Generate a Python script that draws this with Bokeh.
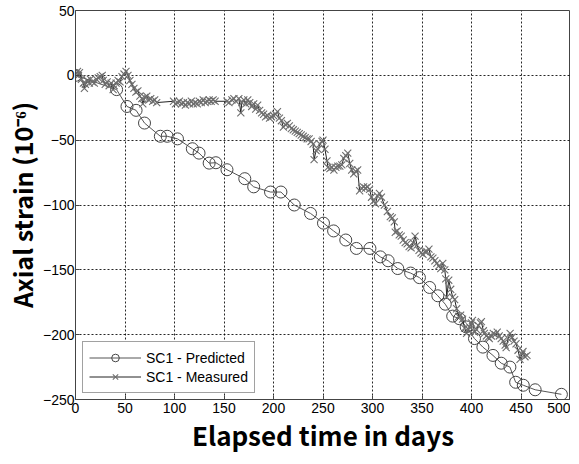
from bokeh.plotting import figure
from bokeh.models import Range1d, Legend, LegendItem, FixedTicker
from bokeh.embed import file_html
from bokeh.resources import INLINE

# ---- data ----
pred_days = [0, 41.5, 52, 61.2, 69.7, 85.7, 92.6, 103, 118, 124.8, 135, 141.8, 153, 171,
             180, 197, 207.5, 221, 237.4, 250.5, 260.7, 273, 283.7, 297.4, 307.9, 315.8,
             325.5, 338.5, 347.4, 357.7, 366, 373.5, 381, 387.8, 394.6, 403, 411.5, 421.7,
             430, 438.8, 444.6, 452.3, 464.3, 490.8]
pred_vals = [0, -11, -24, -27, -36.8, -47, -47, -49, -56.6, -60, -67.7, -67.4, -72.8, -79.7,
             -86, -90, -90, -100, -106.5, -114, -120, -127, -133.5, -133.5, -140, -143,
             -149, -152.5, -156, -163.6, -170, -176.5, -185.7, -187.7, -194, -203, -209.6, -216,
             -222, -225, -236.7, -239, -242.5, -246]

meas_days = [0, 2, 3, 4, 6, 8, 9, 10, 12, 14, 15, 17, 19, 21, 23, 25, 27, 28, 30, 32, 34, 36,
             38, 39, 41, 43, 45, 47, 49, 51, 53, 55, 57, 59, 61, 63, 65, 67, 68, 70, 72, 74,
             76, 78, 80, 82,
             99, 101, 103, 105, 107, 109, 111, 113, 115, 117, 119, 121, 123, 125, 127, 129,
             131, 133, 135, 137, 139, 141,
             153, 155, 158, 160, 162, 165, 167, 168, 170, 172, 174, 176, 178, 180, 182, 184,
             186, 188, 190, 192, 194, 196, 198, 200, 202, 204, 206, 208, 210, 212, 214, 216,
             218, 220, 222, 224, 226, 228, 230, 232, 234, 236, 238, 240, 241, 243, 245, 247,
             249, 250, 252, 254, 255, 257, 259, 261, 263, 265, 267, 269, 271, 273, 275, 277,
             279, 281, 283, 285, 287, 289, 291, 293, 295, 297, 299, 301, 303, 305, 307, 309,
             312, 315, 318, 320, 322, 323, 325, 327, 329, 331, 333, 335, 337, 339, 341, 343,
             345, 347, 349, 351, 353, 355, 357, 359, 361, 363, 365, 367, 369, 371, 373, 374,
             375, 377, 379, 381, 383, 385, 387, 389, 391, 393, 395, 397, 398, 400, 401, 403,
             405, 407, 409, 410, 412, 413, 415, 417, 418, 420, 422, 424, 426, 428, 430, 432,
             434, 435, 437, 439, 441, 443, 445, 447, 449, 451, 452, 454, 456]
meas_vals = [1, 3, 0, 2, -3, -6, -10, -7, -4, -6, -3, -5, -6, -3, -2, -1, 0, -4, -7, -5, -8, -6,
             -11, -8, -6, -4, -5, -1, 1, 3, 0, -4, -7, -10, -13, -12, -16, -18, -22, -17, -16, -19,
             -18, -20, -19, -21,
             -20, -22, -21, -20, -22, -21, -23, -21, -22, -20, -22, -21, -22, -20, -21, -19,
             -21, -20, -19, -20, -19, -20,
             -20, -21, -19, -18, -20, -18, -29, -21, -19, -22, -19, -21, -24, -22, -26, -23,
             -27, -29, -30, -32, -31, -33, -32, -31, -30, -28, -33, -35, -40, -38, -37, -39,
             -41, -42, -43, -44, -45, -46, -47, -48, -49, -49, -51, -53, -65, -58, -57, -53,
             -51, -50, -57, -66, -71, -72, -71, -73, -71, -70, -70, -69, -64, -62, -60, -68,
             -73, -76, -74, -73, -89, -87, -86, -87, -86, -88, -94, -97, -99, -93, -91, -94,
             -100, -105, -109, -110, -113, -121, -120, -123, -124, -127, -129, -130, -132, -133, -129, -124,
             -131, -135, -137, -138, -136, -136, -134, -140, -141, -143, -145, -147, -149, -145, -150, -157,
             -171, -158, -165, -171, -173, -180, -186, -185, -188, -195, -199, -196, -194, -191, -189, -198,
             -196, -193, -191, -190, -197, -199, -201, -202, -203, -201, -199, -200, -198, -201, -203, -205,
             -208, -210, -203, -199, -202, -205, -207, -212, -219, -215, -213, -217, -216]

x_ticks = [0, 50, 100, 150, 200, 250, 300, 350, 400, 450, 500]
y_ticks = [-250, -200, -150, -100, -50, 0, 50]

p = figure(width=570, height=456, output_backend="svg", toolbar_location=None,
           x_range=Range1d(0, 500), y_range=Range1d(-250, 50),
           min_border_left=66, min_border_right=0, min_border_top=10, min_border_bottom=57,
           background_fill_color="white", border_fill_color="white")

p.outline_line_color = "#444444"
p.outline_line_width = 1

for ax in (p.xaxis, p.yaxis):
    ax.axis_line_color = "#444444"
    ax.major_tick_line_color = "#444444"
    ax.major_tick_in = 4
    ax.major_tick_out = 0
    ax.minor_tick_line_color = None
    ax.major_label_text_font = "Liberation Sans"
    ax.major_label_text_font_size = "14px"
    ax.major_label_text_color = "black"
    ax.axis_label_text_font = "Noto Sans CJK KR"
    ax.axis_label_text_font_style = "bold"
    ax.axis_label_text_color = "black"

p.xaxis.axis_label_text_font_size = "26px"
p.yaxis.axis_label_text_font_size = "25px"
p.xaxis.ticker = FixedTicker(ticks=x_ticks)
p.yaxis.ticker = FixedTicker(ticks=y_ticks)
p.xaxis.axis_label = "Elapsed time in days"
p.yaxis.axis_label = "Axial strain (10\u207b\u2076)"
p.xaxis.major_label_standoff = 3
p.yaxis.major_label_standoff = 1
p.xaxis.axis_label_standoff = 0
p.yaxis.axis_label_standoff = 0

for g in (p.xgrid, p.ygrid):
    g.grid_line_color = "black"
    g.grid_line_alpha = 0.85
    g.grid_line_dash = "2 2"
    g.grid_line_width = 1

pl = p.line(pred_days, pred_vals, line_color="#555555", line_width=1)
ps = p.scatter(pred_days, pred_vals, marker="circle", size=12, fill_color=None,
               line_color="#444444", line_width=1)

ml = p.line(meas_days, meas_vals, line_color="#222222", line_width=1)
ms = p.scatter(meas_days, meas_vals, marker="x", size=10, line_color="#6e6e6e", line_width=1.1)

legend = Legend(items=[LegendItem(label="SC1 - Predicted", renderers=[pl, ps]),
                       LegendItem(label="SC1 - Measured", renderers=[ml, ms])],
                location=(7, 6))
legend.margin = 0
legend.padding = 6
legend.spacing = 0
legend.glyph_width = 52
legend.glyph_height = 19
legend.label_height = 19
legend.label_standoff = 5
legend.label_text_font = "Liberation Sans"
legend.label_text_font_size = "14px"
legend.label_text_color = "black"
legend.border_line_color = "#444444"
legend.border_line_width = 1
legend.background_fill_color = "white"
legend.background_fill_alpha = 1
p.add_layout(legend, "center")

open("out.html", "w").write(file_html(p, INLINE))
